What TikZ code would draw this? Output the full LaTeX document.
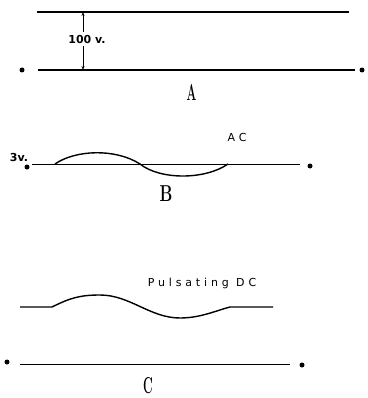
\documentclass[tikz,border=0pt]{standalone}
\usepackage{tikz}
\usepackage{graphicx}
\usepackage{fontspec}
\usetikzlibrary{arrows.meta,positioning}

\newfontfamily\tagfont[LetterSpace=35]{DejaVu Sans}
\newfontfamily\voltfont{DejaVu Sans}

\tikzset{
  wire/.style={line width=1.4pt},
  term/.style={circle,fill,inner sep=0pt,minimum size=5pt},
  panel/.style={font=\bfseries\fontsize{23}{23}\selectfont,inner sep=0pt},
  tag/.style={font=\tagfont\fontsize{11}{11}\selectfont,inner sep=0pt},
  volt/.style={font=\voltfont\bfseries\fontsize{11}{11}\selectfont,inner sep=0pt},
}

\begin{document}
\begin{tikzpicture}[x=1pt,y=-1pt]
\useasboundingbox (0,0) rectangle (367,398);
% A: steady DC
\coordinate (atl) at (37,12);
\coordinate (atr) at (349,12);
\coordinate (abl) at (38,70);
\coordinate (abr) at (355,70);
\draw[wire] (atl) -- (atr);
\draw[wire] (abl) -- (abr);
\node[term] (aleft) at (22,70) {};
\node[term] (aright) at (362,70) {};
\node[volt] (avolt) at (87,39) {100 v.};
\coordinate (aup) at (83,12);
\coordinate (adn) at (83,70);
\draw[line width=0.9pt,-{Stealth[length=4pt]}] (avolt.north -| aup) ++(0,-3) -- (aup);
\draw[line width=0.9pt,-{Stealth[length=4pt]}] (avolt.south -| adn) ++(0,3) -- (adn);
\node[panel] (alab) at (191.5,92) {\scalebox{0.5}[1]{A}};
% B: AC
\coordinate (bl) at (32,164);
\coordinate (br) at (300,164);
\draw[line width=1pt] (bl) -- (br);
\node[term] (bleft) at (27,167) {};
\node[term] (bright) at (310,166) {};
\node[volt] (bvolt) at (19,157) {3v.};
\draw[wire] (55,164) .. controls (75,150) and (115,148) .. (140,164)
  .. controls (160,180) and (205,180) .. (228,164);
\node[tag] (bac) at (237,137.5) {AC};
\node[panel] (blab) at (166,194) {\scalebox{0.7}[1]{B}};
% C: pulsating DC
\draw[wire] (20,307) -- (52,307) .. controls (70,298) and (80,295) .. (100,295)
  .. controls (130,295) and (150,318) .. (180,318)
  .. controls (200,318) and (215,311) .. (230,307) -- (273,307);
\node[tag] (cdc) at (202,283) {Pulsating DC};
\coordinate (cl) at (20,364);
\coordinate (cr) at (290,364);
\draw[line width=1pt] (cl) -- (cr);
\node[term] (cleft) at (7,362) {};
\node[term] (cright) at (302,365) {};
\node[panel] (clab) at (148,386) {\scalebox{0.52}[1]{C}};
\end{tikzpicture}
\end{document}
